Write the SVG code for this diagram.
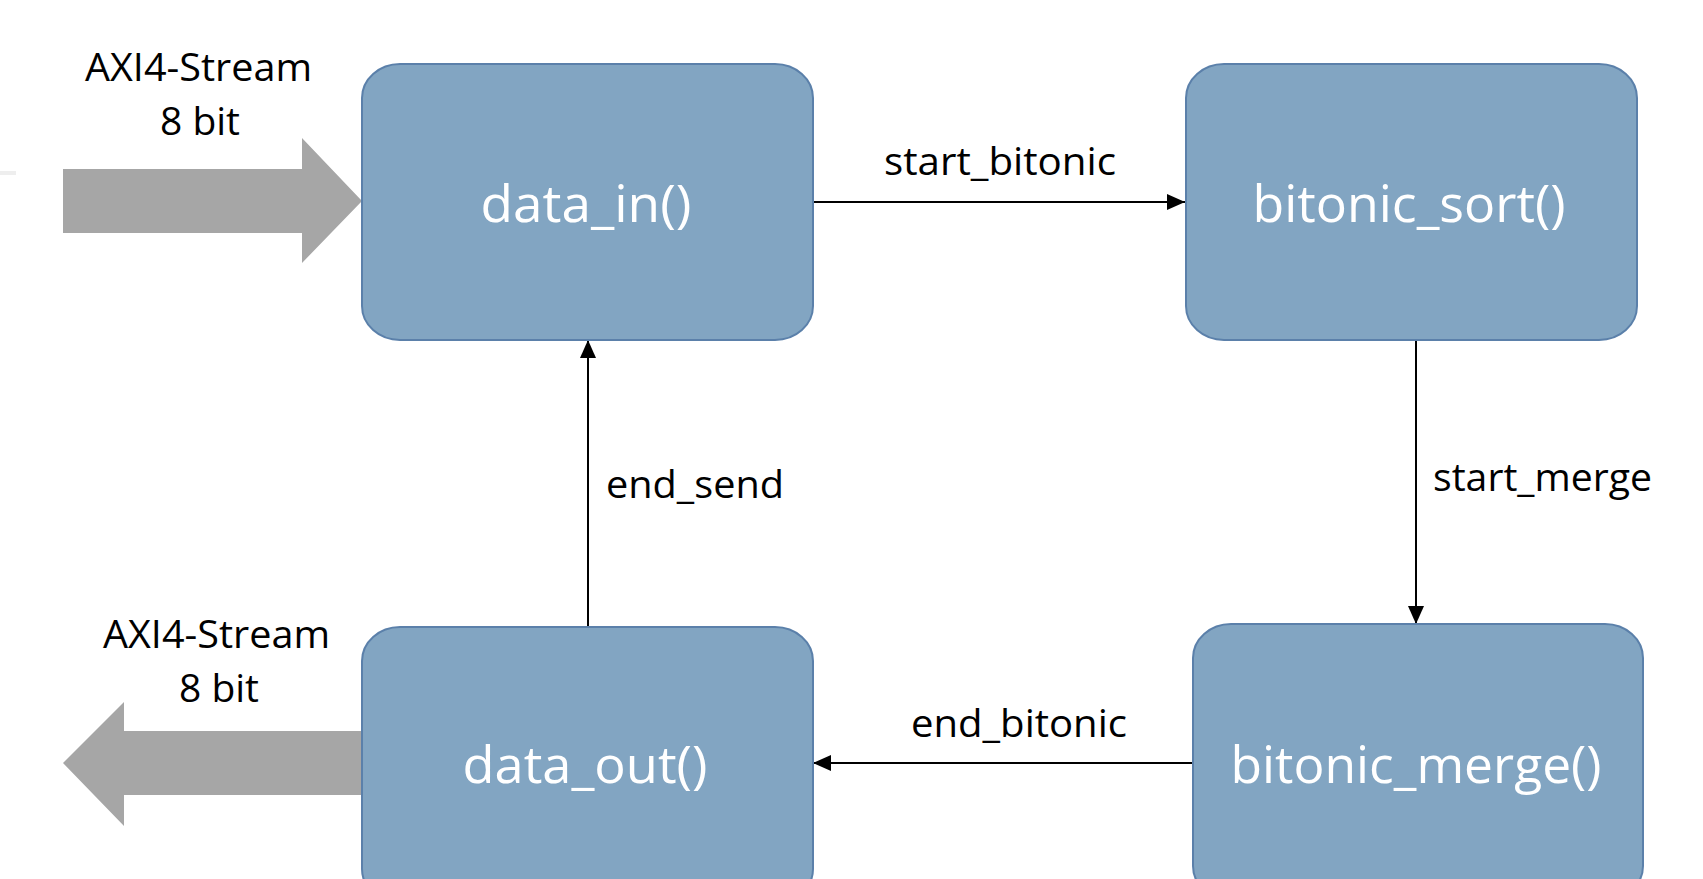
<svg xmlns="http://www.w3.org/2000/svg" width="1703" height="879" viewBox="0 0 1703 879">
<style>
.node rect{fill:#82A5C2;stroke:#5B80AA;stroke-width:2}
.node text{fill:#ffffff;font-family:"Open Sans","Noto Sans",sans-serif;font-size:52px;text-anchor:middle}
.lbl{fill:#000000;font-family:"Open Sans","Noto Sans",sans-serif;font-size:38px}
.conn line{stroke:#000000;stroke-width:2;fill:none}
.bus{fill:#A6A6A6}
</style>
<defs>
<marker id="ah" viewBox="0 0 18 16" refX="18" refY="8" markerWidth="18" markerHeight="16" markerUnits="userSpaceOnUse" orient="auto">
<path d="M0,0 L18,8 L0,16 Z" fill="#000000"/>
</marker>
</defs>
<rect width="1703" height="879" fill="#ffffff"/>
<rect x="0" y="171" width="16" height="4" fill="#EEEEEE"/>

<g id="io">
<polygon class="bus" points="63,169 302,169 302,138 362,201 302,263 302,233 63,233"/>
<polygon class="bus" points="362,731 124,731 124,702 63,763 124,826 124,795 362,795"/>
<text class="lbl" x="85" y="81" textLength="227" lengthAdjust="spacingAndGlyphs">AXI4-Stream</text>
<text class="lbl" x="160" y="135" textLength="80" lengthAdjust="spacingAndGlyphs">8 bit</text>
<text class="lbl" x="103" y="648" textLength="227" lengthAdjust="spacingAndGlyphs">AXI4-Stream</text>
<text class="lbl" x="179" y="702" textLength="80" lengthAdjust="spacingAndGlyphs">8 bit</text>
</g>

<g class="conn" id="connectors">
<line x1="813" y1="202" x2="1185" y2="202" marker-end="url(#ah)"/>
<line x1="1416" y1="340" x2="1416" y2="624" marker-end="url(#ah)"/>
<line x1="1193" y1="763" x2="813" y2="763" marker-end="url(#ah)"/>
<line x1="588" y1="627" x2="588" y2="340" marker-end="url(#ah)"/>
<text class="lbl" x="884" y="175" textLength="232" lengthAdjust="spacingAndGlyphs">start_bitonic</text>
<text class="lbl" x="1433" y="491" textLength="219" lengthAdjust="spacingAndGlyphs">start_merge</text>
<text class="lbl" x="911" y="737" textLength="216" lengthAdjust="spacingAndGlyphs">end_bitonic</text>
<text class="lbl" x="606" y="498" textLength="178" lengthAdjust="spacingAndGlyphs">end_send</text>
</g>

<g class="node" id="data_in">
<rect x="362" y="64" width="451" height="276" rx="38" ry="34"/>
<text x="586" y="222" textLength="211" lengthAdjust="spacingAndGlyphs">data_in()</text>
</g>
<g class="node" id="bitonic_sort">
<rect x="1186" y="64" width="451" height="276" rx="38" ry="34"/>
<text x="1409" y="222" textLength="313" lengthAdjust="spacingAndGlyphs">bitonic_sort()</text>
</g>
<g class="node" id="bitonic_merge">
<rect x="1193" y="624" width="450" height="276" rx="38" ry="34"/>
<text x="1416" y="783" textLength="371" lengthAdjust="spacingAndGlyphs">bitonic_merge()</text>
</g>
<g class="node" id="data_out">
<rect x="362" y="627" width="451" height="276" rx="38" ry="34"/>
<text x="585" y="783" textLength="245" lengthAdjust="spacingAndGlyphs">data_out()</text>
</g>
</svg>
